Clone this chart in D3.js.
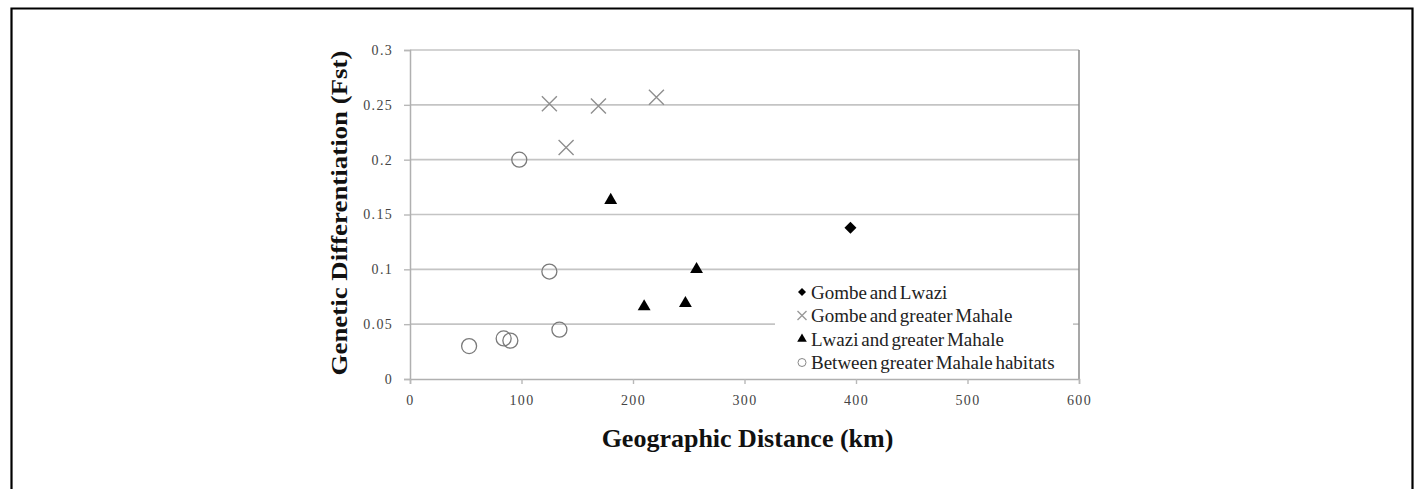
<!DOCTYPE html>
<html>
<head>
<meta charset="utf-8">
<script src="https://cdn.jsdelivr.net/npm/d3@7"></script>
<style>
  body { margin: 0; background: #fff; }
  text { font-family: "Liberation Serif", "Times New Roman", serif; }
</style>
</head>
<body>
<div id="chart"></div>
<script>
// data
const seriesNames = ['Gombe and Lwazi', 'Gombe and greater Mahale', 'Lwazi and greater Mahale', 'Between greater Mahale habitats']

const gombeLwazi = [[395, 0.138]]
const gombeMahale = [[125, 0.251], [169, 0.249], [221, 0.257], [140, 0.211]]
const lwaziMahale = [[180, 0.163], [210, 0.066], [247, 0.069], [257, 0.100]]
const betweenMahale = [[98, 0.200], [125, 0.098], [134, 0.045], [53, 0.030], [84, 0.037], [90, 0.035]]

const xTicks = [0, 100, 200, 300, 400, 500, 600]
const yTicks = [0, 0.05, 0.1, 0.15, 0.2, 0.25, 0.3]
const yTickLabels = ['0', '0.05', '0.1', '0.15', '0.2', '0.25', '0.3']

;(function () {
  const W = 1418
  const H = 489
  const margin = { top: 50, right: 339, bottom: 110, left: 410 }
  const width = W - margin.left - margin.right
  const height = H - margin.top - margin.bottom

  const root = d3.select('#chart').append('svg')
    .attr('width', W)
    .attr('height', H)

  // outer frame (bottom runs off the picture)
  root.append('path')
    .attr('d', 'M11.5,' + (H + 5) + 'V8.5H1412.5V' + (H + 5))
    .attr('fill', 'none')
    .attr('stroke', '#000')
    .attr('stroke-width', 2.2)

  const svg = root.append('g')
    .attr('transform', 'translate(' + margin.left + ',' + margin.top + ')')

  const x = d3.scaleLinear().domain([0, 600]).range([0, width])
  const y = d3.scaleLinear().domain([0, 0.3]).range([height, 0])

  // gridlines
  svg.append('g')
    .selectAll('line')
    .data(yTicks.slice(1))
    .enter().append('line')
    .attr('x1', 0)
    .attr('x2', width)
    .attr('y1', d => y(d))
    .attr('y2', d => y(d))
    .attr('stroke', '#c4c4c4')
    .attr('stroke-width', 1.6)

  // right edge of plot area
  svg.append('line')
    .attr('x1', width).attr('x2', width)
    .attr('y1', 0).attr('y2', height)
    .attr('stroke', '#8a8a8a')
    .attr('stroke-width', 1.5)

  const yAxis = d3.axisLeft(y)
    .tickValues(yTicks)
    .tickFormat((d, i) => yTickLabels[i])
    .tickSize(6)
    .tickPadding(11)
  const gy = svg.append('g').attr('class', 'y-axis').call(yAxis)

  const xAxis = d3.axisBottom(x)
    .tickValues(xTicks)
    .tickSize(5)
    .tickPadding(11)
  const gx = svg.append('g')
    .attr('class', 'x-axis')
    .attr('transform', 'translate(0,' + height + ')')
    .call(xAxis)

  ;[gy, gx].forEach(g => {
    g.select('.domain').attr('stroke', '#b0b0b0').attr('stroke-width', 1.5)
    g.selectAll('.tick line').attr('stroke', '#b8b8b8').attr('stroke-width', 1.4)
    g.selectAll('.tick text')
      .attr('fill', '#444')
      .style('font-size', '14px')
      .style('letter-spacing', '1.3px')
      .style('font-family', '"Liberation Serif", serif')
  })

  // marker shapes
  const diamondPath = s => 'M0,' + (-s) + 'L' + s + ',0L0,' + s + 'L' + (-s) + ',0Z'
  const triangle = d3.symbol().type(d3.symbolTriangle)

  function drawCross (sel, s, stroke) {
    sel.append('path')
      .attr('d', 'M' + (-s) + ',' + (-s) + 'L' + s + ',' + s + 'M' + (-s) + ',' + s + 'L' + s + ',' + (-s))
      .attr('stroke', stroke)
      .attr('stroke-width', 1.4)
      .attr('fill', 'none')
  }

  // points
  svg.append('g').selectAll('path')
    .data(gombeLwazi)
    .enter().append('path')
    .attr('d', diamondPath(6))
    .attr('transform', d => 'translate(' + x(d[0]) + ',' + y(d[1]) + ')')
    .attr('fill', '#000')

  svg.append('g').selectAll('g')
    .data(gombeMahale)
    .enter().append('g')
    .attr('transform', d => 'translate(' + x(d[0]) + ',' + y(d[1]) + ')')
    .each(function () { drawCross(d3.select(this), 7.5, '#8f8f8f') })

  svg.append('g').selectAll('path')
    .data(lwaziMahale)
    .enter().append('path')
    .attr('d', triangle.size(72))
    .attr('transform', d => 'translate(' + x(d[0]) + ',' + y(d[1]) + ')')
    .attr('fill', '#000')

  svg.append('g').selectAll('circle')
    .data(betweenMahale)
    .enter().append('circle')
    .attr('cx', d => x(d[0]))
    .attr('cy', d => y(d[1]))
    .attr('r', 7.5)
    .attr('fill', 'none')
    .attr('stroke', '#7a7a7a')
    .attr('stroke-width', 1.3)

  // legend
  const legend = svg.append('g')
    .attr('transform', 'translate(' + (775 - margin.left) + ',' + (277 - margin.top) + ')')

  legend.append('rect')
    .attr('width', 298)
    .attr('height', 100)
    .attr('fill', '#fff')

  const items = legend.selectAll('g')
    .data(seriesNames)
    .enter().append('g')
    .attr('transform', (d, i) => 'translate(27,' + (15 + i * 23.5) + ')')

  items.each(function (d, i) {
    const g = d3.select(this)
    if (i === 0) g.append('path').attr('d', diamondPath(4)).attr('fill', '#000')
    if (i === 1) drawCross(g, 4.5, '#999')
    if (i === 2) g.append('path').attr('d', triangle.size(40)).attr('fill', '#000')
    if (i === 3) g.append('circle').attr('r', 4).attr('fill', 'none').attr('stroke', '#888').attr('stroke-width', 1)
  })

  items.append('text')
    .attr('x', 9)
    .attr('dy', '0.35em')
    .style('font-size', '19px')
    .style('word-spacing', '-2px')
    .attr('fill', '#222')
    .text(d => d)

  // axis titles
  svg.append('text')
    .attr('x', width / 2 + 3)
    .attr('y', height + 68)
    .attr('text-anchor', 'middle')
    .style('font-size', '26px')
    .style('font-weight', 'bold')
    .attr('fill', '#111')
    .text('Geographic Distance (km)')

  svg.append('text')
    .attr('transform', 'translate(-63,' + (height / 2 - 1.5) + ') rotate(-90) scale(1.12,1)')
    .attr('text-anchor', 'middle')
    .style('font-size', '24px')
    .style('font-weight', 'bold')
    .attr('fill', '#111')
    .text('Genetic Differentiation (Fst)')
})()
</script>
</body>
</html>
